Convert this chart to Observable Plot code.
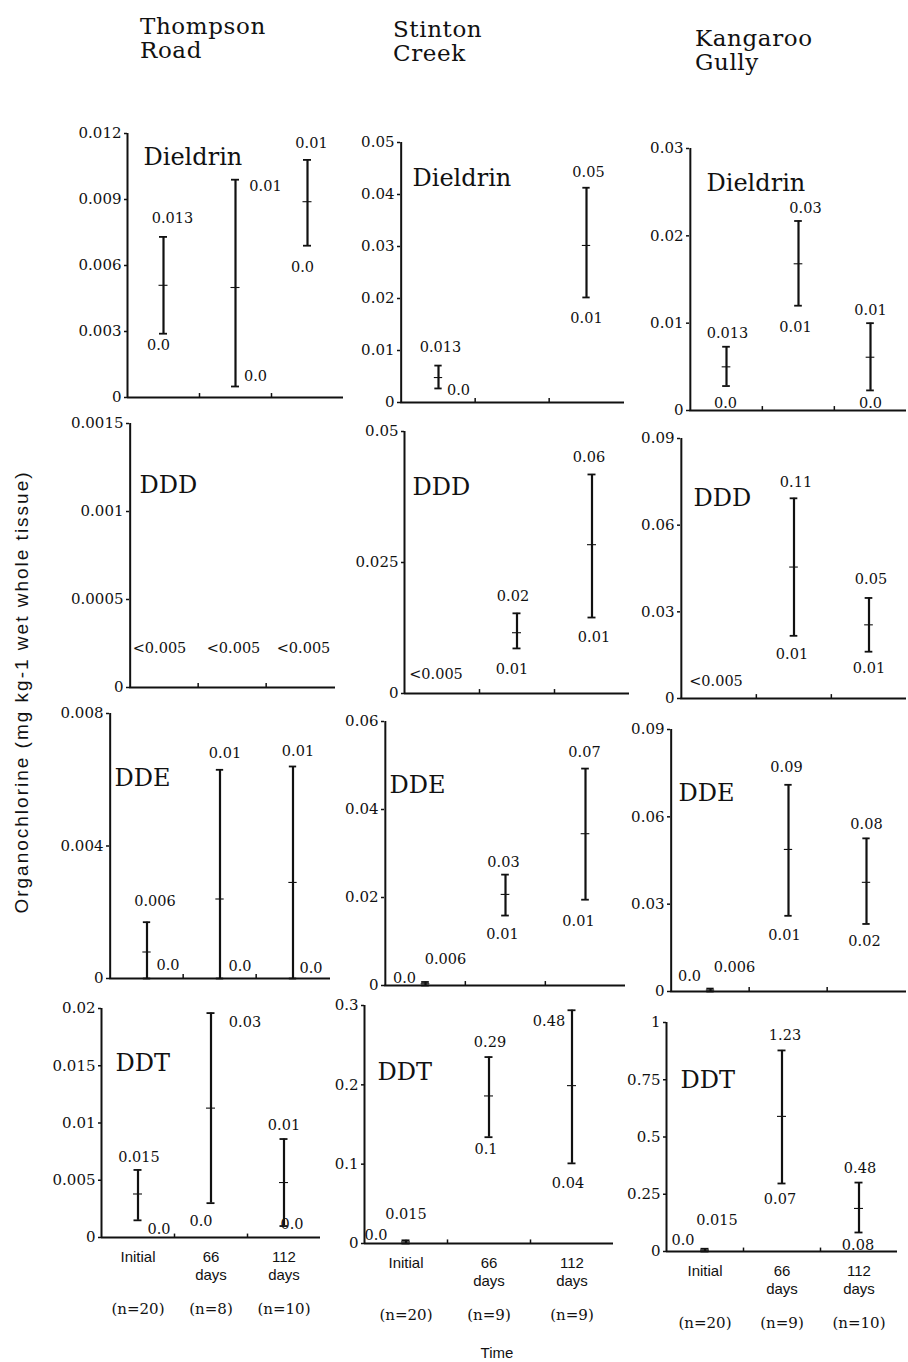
<!DOCTYPE html>
<html><head><meta charset="utf-8">
<script src="https://cdn.jsdelivr.net/npm/d3@7"></script>
<script src="https://cdn.jsdelivr.net/npm/@observablehq/plot@0.6"></script>
<style>
body{margin:0;background:#fff;}
#chart{position:relative;width:908px;height:1362px;overflow:hidden;color:#111;background:#fff;}
.hdr{position:absolute;font-family:"DejaVu Serif";font-size:23px;line-height:24px;letter-spacing:0.6px;white-space:pre;color:#111;}
.ytitle{position:absolute;left:22px;top:692px;transform:translate(-50%,-50%) rotate(-90deg);white-space:nowrap;font-family:"Liberation Sans";font-size:19px;letter-spacing:2px;color:#111;}
.xtitle{position:absolute;left:497px;top:1352px;transform:translate(-50%,-50%);font-family:"Liberation Sans";font-size:15px;color:#111;}
svg{overflow:visible;}
</style></head><body><div id="chart"></div>
<script>
// ---------- data ----------
const sites = ["Thompson\nRoad", "Stinton\nCreek", "Kangaroo\nGully"];
const compounds = ["Dieldrin", "DDD", "DDE", "DDT"];
const periods = ["Initial", "66 days", "112 days"];
const periodLabels = ["Initial", "66\ndays", "112\ndays"];
const sampleSizes = [["(n=20)", "(n=8)", "(n=10)"], ["(n=20)", "(n=9)", "(n=9)"], ["(n=20)", "(n=9)", "(n=10)"]];
const yTitle = "Organochlorine (mg kg-1 wet whole tissue)";
const xTitle = "Time";

// y tick labels [compound][site]
const yTicks = [
  [["0", "0.003", "0.006", "0.009", "0.012"], ["0", "0.01", "0.02", "0.03", "0.04", "0.05"], ["0", "0.01", "0.02", "0.03"]],
  [["0", "0.0005", "0.001", "0.0015"], ["0", "0.025", "0.05"], ["0", "0.03", "0.06", "0.09"]],
  [["0", "0.004", "0.008"], ["0", "0.02", "0.04", "0.06"], ["0", "0.03", "0.06", "0.09"]],
  [["0", "0.005", "0.01", "0.015", "0.02"], ["0", "0.1", "0.2", "0.3"], ["0", "0.25", "0.5", "0.75", "1"]]
];

// bar lower end, mean, upper end [compound][site][period]
const lows = [
  [[0.0029, 0.0005, 0.0069], [0.0027, null, 0.0202], [0.0028, 0.0120, 0.0023]],
  [[null, null, null], [null, 0.0086, 0.0145], [null, 0.0217, 0.0162]],
  [[0, 0, 0], [0, 0.0159, 0.0195], [0, 0.026, 0.0232]],
  [[0.0015, 0.0030, 0.0010], [0, 0.134, 0.101], [0, 0.297, 0.083]]
];
const means = [
  [[0.0051, 0.0050, 0.0089], [0.0048, null, 0.0302], [0.0050, 0.0168, 0.0061]],
  [[null, null, null], [null, 0.0116, 0.0284], [null, 0.0455, 0.0255]],
  [[0.0008, 0.0024, 0.0029], [0.0004, 0.0207, 0.0345], [0.0005, 0.0488, 0.0375]],
  [[0.0038, 0.0113, 0.0048], [0.002, 0.186, 0.199], [0.006, 0.590, 0.188]]
];
const highs = [
  [[0.0073, 0.0099, 0.0108], [0.0071, null, 0.0413], [0.0073, 0.0217, 0.0100]],
  [[null, null, null], [null, 0.0153, 0.0418], [null, 0.0693, 0.0348]],
  [[0.0017, 0.0063, 0.0064], [0.0008, 0.0252, 0.0493], [0.001, 0.071, 0.0526]],
  [[0.0059, 0.0196, 0.0086], [0.004, 0.235, 0.294], [0.012, 0.878, 0.301]]
];
// printed maximum / minimum values
const maxLabels = [
  [["0.013", "0.01", "0.01"], ["0.013", null, "0.05"], ["0.013", "0.03", "0.01"]],
  [[null, null, null], [null, "0.02", "0.06"], [null, "0.11", "0.05"]],
  [["0.006", "0.01", "0.01"], ["0.006", "0.03", "0.07"], ["0.006", "0.09", "0.08"]],
  [["0.015", "0.03", "0.01"], ["0.015", "0.29", "0.48"], ["0.015", "1.23", "0.48"]]
];
const minLabels = [
  [["0.0", "0.0", "0.0"], ["0.0", null, "0.01"], ["0.0", "0.01", "0.0"]],
  [[null, null, null], [null, "0.01", "0.01"], [null, "0.01", "0.01"]],
  [["0.0", "0.0", "0.0"], ["0.0", "0.01", "0.01"], ["0.0", "0.01", "0.02"]],
  [["0.0", "0.0", "0.0"], ["0.0", "0.1", "0.04"], ["0.0", "0.07", "0.08"]]
];
// below detection limit labels
const ndLabels = [
  [[null, null, null], [null, null, null], [null, null, null]],
  [["<0.005", "<0.005", "<0.005"], ["<0.005", null, null], ["<0.005", null, null]],
  [[null, null, null], [null, null, null], [null, null, null]],
  [[null, null, null], [null, null, null], [null, null, null]]
];

// ---------- layout (pixels) ----------
// [axis x, top y, zero y, right x]
const panelBox = [
  [[127, 133, 397, 343], [400, 142, 402, 624], [689, 148, 410, 906]],
  [[129, 423, 687, 335], [404, 431, 693, 629], [680, 438, 698, 906]],
  [[109, 713, 978, 330], [384, 721, 985, 625], [670, 729, 991, 906]],
  [[101, 1008, 1237, 320], [364, 1005, 1243, 613], [666, 1022, 1251, 897]]
];
const nameOffset = [
  [[16, 24], [12, 36], [17, 35]],
  [[10, 62], [8, 56], [13, 60]],
  [[5, 65], [5, 64], [8, 64]],
  [[14, 55], [13, 67], [14, 58]]
];
const maxOffset = [
  [[[9, -19], [30, 7], [4, -17]], [[2, -18], null, [2, -15]], [[1, -13], [7, -13], [0, -13]]],
  [[null, null, null], [null, [-4, -17], [-3, -17]], [null, [2, -16], [2, -19]]],
  [[[8, -21], [5, -16], [5, -15]], [[20, -23], [-2, -12], [-1, -16]], [[24, -21], [-2, -17], [0, -14]]],
  [[[1, -13], [34, 9], [0, -14]], [[0, -26], [1, -15], [-23, 11]], [[12, -28], [3, -15], [1, -14]]]
];
const minOffset = [
  [[[-5, 12], [20, -10], [-5, 22]], [[20, 2], null, [0, 21]], [[-1, 17], [-3, 22], [0, 13]]],
  [[null, null, null], [null, [-5, 21], [2, 20]], [null, [-2, 19], [0, 17]]],
  [[[21, -13], [20, -12], [18, -10]], [[-21, -7], [-3, 19], [-7, 22]], [[-21, -15], [-4, 20], [-2, 17]]],
  [[[21, 9], [-10, 18], [8, -2]], [[-30, -8], [-3, 12], [-4, 20]], [[-22, -11], [-2, 16], [-1, 13]]]
];
const ndOffset = [
  [[null, null, null], [null, null, null], [null, null, null]],
  [[[-5, -39], [1, -39], [3, -39]], [[-6, -19], null, null], [[-3, -17], null, null]],
  [[null, null, null], [null, null, null], [null, null, null]],
  [[null, null, null], [null, null, null], [null, null, null]]
];
const headerPos = [[140, 14], [393, 17], [695, 26]];

// ---------- render ----------
const root = document.getElementById("chart");
const SERIF = "DejaVu Serif";

sites.forEach((s, c) => {
  const d = document.createElement("div");
  d.className = "hdr";
  d.textContent = s;
  d.style.left = headerPos[c][0] + "px";
  d.style.top = headerPos[c][1] + "px";
  root.appendChild(d);
});

compounds.forEach((comp, r) => {
  sites.forEach((site, c) => {
    const [ax, ty, zy, rx] = panelBox[r][c];
    const ML = 70, MR = 4, MT = 20, MB = r === 3 ? 95 : 24;
    const W = ML + (rx - ax) + MR, H = MT + (zy - ty) + MB;
    const bw = (rx - ax) / 3;
    const ticks = yTicks[r][c];
    const ymax = +ticks[ticks.length - 1];
    const rows = periods.map((p, i) => ({
      period: p, lo: lows[r][c][i], mean: means[r][c][i], hi: highs[r][c][i]
    })).filter(d => d.hi != null);
    const capInset = (bw - 8) / 2, meanInset = (bw - 9) / 2;

    const marks = [
      // y axis line (left edge of first band)
      Plot.ruleX([periods[0]], {x: d => d, y1: 0, y2: ymax, dx: -bw / 2, strokeWidth: 2}),
      // x axis line and small boundary ticks
      Plot.ruleY([0], {strokeWidth: 2}),
      Plot.ruleX(periods.slice(1), {x: d => d, y1: 0, y2: ymax * 0.015, dx: -bw / 2, strokeWidth: 1.5}),
      Plot.axisY({
        ticks: ticks.map(Number),
        tickFormat: v => ticks.find(t => +t === v),
        tickSize: 3, tickPadding: 3, strokeWidth: 1.5,
        label: null, fontSize: 15, fontFamily: SERIF
      }),
      Plot.ruleX(rows, {x: "period", y1: "lo", y2: "hi", strokeWidth: 2.2}),
      Plot.tickY(rows, {x: "period", y: "hi", insetLeft: capInset, insetRight: capInset, strokeWidth: 1.8}),
      Plot.tickY(rows, {x: "period", y: "lo", insetLeft: capInset, insetRight: capInset, strokeWidth: 1.8}),
      Plot.tickY(rows, {x: "period", y: "mean", insetLeft: meanInset, insetRight: meanInset, strokeWidth: 1.1}),
      Plot.text([comp], {
        frameAnchor: "top-left", text: d => d, dx: nameOffset[r][c][0], dy: nameOffset[r][c][1],
        textAnchor: "start", lineAnchor: "middle", fontSize: 24, fontFamily: SERIF
      })
    ];

    periods.forEach((p, i) => {
      const add = (txt, v, off) => {
        if (txt == null || off == null) return;
        marks.push(Plot.text([{p, v, t: txt}], {
          x: "p", y: "v", text: "t", dx: off[0], dy: off[1],
          lineAnchor: "middle", fontSize: 14.5, fontFamily: SERIF
        }));
      };
      if (highs[r][c][i] != null) {
        add(maxLabels[r][c][i], highs[r][c][i], maxOffset[r][c][i]);
        add(minLabels[r][c][i], lows[r][c][i], minOffset[r][c][i]);
      }
      add(ndLabels[r][c][i], 0, ndOffset[r][c][i]);
    });

    if (r === 3) {
      marks.push(Plot.text(periods, {
        x: d => d, frameAnchor: "bottom", dy: 12, lineAnchor: "top",
        text: (d, i) => periodLabels[i], fontSize: 15, fontFamily: "Liberation Sans", lineHeight: 1.2
      }));
      marks.push(Plot.text(periods, {
        x: d => d, frameAnchor: "bottom", dy: 72, lineAnchor: "middle",
        text: (d, i) => sampleSizes[c][i], fontSize: 15, fontFamily: SERIF
      }));
    }

    const svg = Plot.plot({
      width: W, height: H,
      marginLeft: ML, marginRight: MR, marginTop: MT, marginBottom: MB,
      style: {fontFamily: SERIF, fontSize: "15px", color: "#111", background: "transparent", overflow: "visible"},
      x: {type: "band", domain: periods, padding: 0, axis: null},
      y: {domain: [0, ymax], label: null},
      marks
    });
    svg.style.position = "absolute";
    svg.style.left = (ax - ML) + "px";
    svg.style.top = (ty - MT) + "px";
    root.appendChild(svg);
  });
});

const yt = document.createElement("div");
yt.className = "ytitle"; yt.textContent = yTitle; root.appendChild(yt);
const xt = document.createElement("div");
xt.className = "xtitle"; xt.textContent = xTitle; root.appendChild(xt);
</script></body></html>
